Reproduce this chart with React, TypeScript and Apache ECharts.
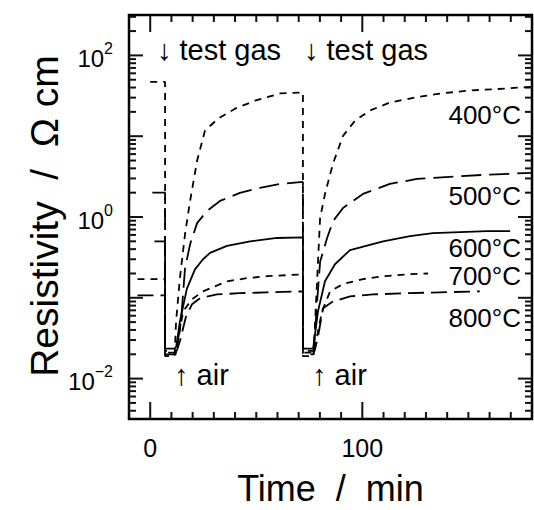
import React, { useEffect, useRef } from 'react';
import * as echarts from 'echarts';

const FONT = '"Liberation Sans", Arial, Helvetica, sans-serif';

// Axes
const X_MIN = -10;
const X_MAX = 180;
const X_INTERVAL = 10;
const Y_MIN = Math.pow(10, -2.5);
const Y_MAX = Math.pow(10, 2.5);
const X_LABELS = [0, 100];
const X_LONG_TICKS = [0, 100];
const Y_LABEL_EXPONENTS = [-2, 0, 2];
const Y_DECADES = [-3, -2, -1, 0, 1, 2];
const Y_MANTISSAS = [2, 3, 4, 5, 6, 7, 8, 9];

// Series: [time (min), resistivity (Ω cm)]
const R400: [number, number][] = [
  [0, 47], [7, 47],
  [7, 0.019], [11.5, 0.019],
  [12.2, 0.051], [14.0, 0.175], [16.4, 0.61], [18.8, 1.58], [22.1, 4.96], [25.8, 11.7], [32.0, 16.5],
  [40.0, 21.9], [49.4, 27.5], [61.2, 33.8], [72, 34.7],
  [72, 0.019], [77, 0.019],
  [78.2, 0.09], [80.1, 0.97], [82.4, 1.93], [86.2, 4.6], [90.9, 10.1], [96.6, 15.6], [103.6, 20.8],
  [113, 26.1], [124.8, 30.1], [136.6, 33.7], [150.8, 36.8], [167.3, 38.8], [180, 41],
];
const R500: [number, number][] = [
  [1, 2.0], [7, 2.0],
  [7, 0.02], [12, 0.02],
  [14.5, 0.051], [16.4, 0.23], [18.8, 0.46], [22.1, 0.84], [26.8, 1.19], [32.9, 1.58], [42.3, 1.99],
  [51.7, 2.29], [61.2, 2.57], [72, 2.72],
  [72, 0.02], [77, 0.02],
  [78.7, 0.09], [80.1, 0.28], [83.4, 0.55], [86.2, 0.89], [90.9, 1.29], [100.3, 1.93], [113, 2.57],
  [125.8, 2.96], [141.4, 3.14], [156.9, 3.32], [180, 3.52],
];
const R600: [number, number][] = [
  [2, 0.5], [7, 0.5],
  [7, 0.0235], [11.5, 0.0235],
  [12.3, 0.025], [14.0, 0.051], [17.3, 0.13], [21.1, 0.225], [24.9, 0.3], [28.2, 0.36], [36.2, 0.44],
  [47.1, 0.5], [59.8, 0.55], [72, 0.56],
  [72, 0.0235], [76.8, 0.0235],
  [79.1, 0.068], [82.4, 0.16], [87.1, 0.26], [94.2, 0.39], [109.8, 0.5], [122.5, 0.58], [133.3, 0.63],
  [146.1, 0.65], [158.8, 0.67], [169.7, 0.67],
];
const R700: [number, number][] = [
  [-6, 0.17], [7, 0.17],
  [7, 0.021], [12, 0.021],
  [13.1, 0.029], [15.5, 0.068], [19.7, 0.096], [24.9, 0.12], [36.2, 0.16], [45.6, 0.175], [55.1, 0.185],
  [72, 0.195],
  [72, 0.021], [77, 0.021],
  [78.2, 0.029], [81, 0.068], [84.8, 0.12], [90.9, 0.148], [100.3, 0.17], [109.8, 0.185], [121.1, 0.195],
  [131, 0.2],
];
const R800: [number, number][] = [
  [-6, 0.107], [7, 0.107],
  [7, 0.022], [12.5, 0.022],
  [14, 0.029], [16.9, 0.059], [19.7, 0.083], [23.5, 0.099], [31.5, 0.11], [42.3, 0.114], [55.1, 0.117],
  [72, 0.12],
  [72, 0.022], [77.5, 0.022],
  [79.1, 0.033], [81.5, 0.074], [86.2, 0.09], [94.2, 0.104], [105, 0.11], [121.1, 0.114], [136.6, 0.117],
  [155.4, 0.12],
];

const CURVES = [
  { name: '400°C', data: R400, dash: [7, 6] as number[] | 'solid' },
  { name: '500°C', data: R500, dash: [20, 8] as number[] | 'solid' },
  { name: '600°C', data: R600, dash: 'solid' as number[] | 'solid' },
  { name: '700°C', data: R700, dash: [7, 6] as number[] | 'solid' },
  { name: '800°C', data: R800, dash: [16, 7] as number[] | 'solid' },
];

// Text annotations (pixel placement)
const TEMP_LABELS = [
  { text: '400°C', x: 521, y: 115 },
  { text: '500°C', x: 521, y: 196 },
  { text: '600°C', x: 521, y: 248 },
  { text: '700°C', x: 521, y: 276 },
  { text: '800°C', x: 521, y: 318 },
];
const EVENT_LABELS = [
  { text: '↓ test gas', x: 157, y: 50 },
  { text: '↓ test gas', x: 304, y: 50 },
  { text: '↑ air', x: 174, y: 375 },
  { text: '↑ air', x: 312, y: 375 },
];
const Y_NAME = 'Resistivity \u00a0/\u00a0 Ω cm';
const X_NAME = 'Time \u00a0/\u00a0 min';

export default function App() {
  const ref = useRef<HTMLDivElement>(null);
  useEffect(() => {
    if (!ref.current) return;
    const chart = echarts.init(ref.current, undefined, { renderer: 'svg' });

    const yLabelFormatter = (v: number) => {
      const lg = Math.log10(v);
      const e = Math.round(lg);
      if (Math.abs(lg - e) > 1e-6) return '';
      if (Y_LABEL_EXPONENTS.indexOf(e) < 0) return '';
      return `{b|10}{s|${e < 0 ? '−' : ''}${Math.abs(e)}}`;
    };

    const option: any = {
      animation: false,
      backgroundColor: '#fff',
      grid: {
        left: 129, top: 15, width: 403, height: 404, containLabel: false, outerBoundsMode: 'none',
        show: true, borderColor: '#000', borderWidth: 2.5, backgroundColor: 'transparent',
      },
      xAxis: {
        type: 'value', min: X_MIN, max: X_MAX, interval: X_INTERVAL, position: 'bottom',
        axisLine: { show: false, onZero: false }, axisTick: { show: false }, splitLine: { show: false },
        axisLabel: {
          interval: 0, margin: 16, color: '#000', fontSize: 25, fontFamily: FONT,
          formatter: (v: number) => (X_LABELS.indexOf(v) >= 0 ? String(v) : ''),
        },
        name: X_NAME, nameLocation: 'middle', nameGap: 51,
        nameTextStyle: { color: '#000', fontSize: 36, fontFamily: FONT },
      },
      yAxis: {
        type: 'log', min: Y_MIN, max: Y_MAX, position: 'left',
        axisLine: { show: false, onZero: false }, axisTick: { show: false }, splitLine: { show: false },
        axisLabel: {
          margin: 16, color: '#000', formatter: yLabelFormatter,
          rich: {
            b: { fontSize: 24, fontFamily: FONT, color: '#000', verticalAlign: 'bottom', lineHeight: 30 },
            s: { fontSize: 16, fontFamily: FONT, color: '#000', verticalAlign: 'top', lineHeight: 30 },
          },
        },
      },
      series: CURVES.map((c) => ({
        type: 'line', name: c.name, data: c.data,
        showSymbol: false, symbol: 'none',
        lineStyle: { color: '#000', width: 1.8, type: c.dash },
      })),
    };
    chart.setOption(option);

    // Ticks placed through the chart's own scales
    const toPx = (x: number, y: number) =>
      chart.convertToPixel({ xAxisIndex: 0, yAxisIndex: 0 }, [x, y]) as number[];
    const [L, B] = toPx(X_MIN, Y_MIN);
    const [R, T] = toPx(X_MAX, Y_MAX);
    const els: any[] = [];
    const seg = (x1: number, y1: number, x2: number, y2: number) => {
      els.push({ type: 'line', shape: { x1, y1, x2, y2 }, style: { stroke: '#111', lineWidth: 2 } });
    };
    const yTick = (v: number, len: number) => {
      const y = toPx(X_MIN, v)[1];
      seg(L, y, L + len, y);
      seg(R, y, R - len, y);
    };
    Y_DECADES.forEach((e) => {
      const major = Math.pow(10, e);
      if (major >= Y_MIN && major <= Y_MAX) yTick(major, 14);
      Y_MANTISSAS.forEach((m) => {
        const v = m * major;
        if (v > Y_MIN && v < Y_MAX) yTick(v, 7);
      });
    });
    for (let t = X_MIN + X_INTERVAL; t < X_MAX; t += X_INTERVAL) {
      const x = toPx(t, Y_MIN)[0];
      const len = X_LONG_TICKS.indexOf(t) >= 0 ? 17 : 7;
      seg(x, B, x, B - len);
      seg(x, T, x, T + len);
    }
    TEMP_LABELS.forEach((l) => {
      els.push({
        type: 'text', x: l.x, y: l.y,
        style: { text: l.text, fill: '#000', font: `26px ${FONT}`, textAlign: 'right', textVerticalAlign: 'middle' },
      });
    });
    EVENT_LABELS.forEach((l) => {
      els.push({
        type: 'text', x: l.x, y: l.y,
        style: { text: l.text, fill: '#000', font: `29px ${FONT}`, textAlign: 'left', textVerticalAlign: 'middle' },
      });
    });
    els.push({
      type: 'text', x: 44, y: 216, rotation: Math.PI / 2,
      style: { text: Y_NAME, fill: '#000', font: `39px ${FONT}`, textAlign: 'center', textVerticalAlign: 'middle' },
    });
    chart.setOption({ graphic: els });

    return () => chart.dispose();
  }, []);
  return (
    <div
      ref={ref}
      style={{ position: 'fixed', left: 0, top: 0, width: 534, height: 510, background: '#fff' }}
    />
  );
}
